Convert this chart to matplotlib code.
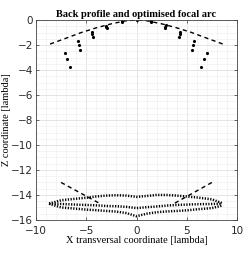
import numpy as np
import matplotlib
matplotlib.use("Agg")
import matplotlib.pyplot as plt
from matplotlib.ticker import MultipleLocator

# focal arc (dashed)
arc_x = [-8.6, -7.0, -5.5, -4.0, -2.5, -1.0, 0.0, 1.0, 2.5, 4.0, 5.5, 7.0, 8.6]
arc_z = [-1.92, -1.45, -1.0, -0.62, -0.3, -0.05, 0.0, -0.05, -0.3, -0.62, -1.0, -1.45, -1.92]

# back profile points near the top
top_x = [-7.11, -6.88, -6.58, -5.85, -5.75, -5.6, -4.46, -4.43, -4.36, -3.03, -3.0, -2.97,
         -1.47, -1.42, 0.0, 1.41, 1.45, 2.9, 2.88, 2.86, 4.33, 4.3, 4.23, 5.72, 5.62, 5.49,
         6.98, 6.75, 6.45]
top_z = [-2.67, -3.12, -3.76, -1.68, -2.0, -2.37, -0.93, -1.1, -1.39, -0.45, -0.55, -0.65,
         -0.1, -0.18, 0.0, -0.08, -0.15, -0.4, -0.52, -0.64, -0.99, -1.15, -1.39, -1.68, -2.0, -2.37,
         -2.67, -3.12, -3.76]

# bottom dashed segments
dl_x = [-7.5, -3.5]
dl_z = [-13.0, -14.75]
dr_x = [7.5, 3.6]
dr_z = [-13.0, -14.75]

# bottom profile curves
bx = [-8.7, -7.5, -6, -5, -4, -3, -2, -1, 0, 1, 2, 3, 4, 5, 6, 7.5, 8.5]
upper_z = [-14.7, -14.42, -14.3, -14.22, -14.12, -14.05, -14.02, -14.05, -14.15, -14.08, -14.0,
           -14.0, -14.05, -14.12, -14.2, -14.35, -14.65]
middle_z = [-14.7, -14.72, -14.77, -14.8, -14.83, -14.88, -14.9, -14.95, -15.05, -14.98, -14.92,
            -14.85, -14.8, -14.77, -14.74, -14.72, -14.7]
lower_z = [-14.7, -15.0, -15.1, -15.17, -15.22, -15.28, -15.33, -15.45, -15.7, -15.5, -15.38,
           -15.32, -15.28, -15.23, -15.15, -15.05, -14.85]

fig = plt.figure(figsize=(2.5, 2.54), dpi=100)
ax = fig.add_axes([0.144, 0.134, 0.804, 0.787])

dash = (0, (3, 2.5))
ax.plot(arc_x, arc_z, color="k", lw=1.0, linestyle=dash)
ax.plot(top_x, top_z, "k.", ms=2.5)
ax.plot(dl_x, dl_z, color="k", lw=1.0, linestyle=dash)
ax.plot(dr_x, dr_z, color="k", lw=1.0, linestyle=dash)
for zz in (upper_z, middle_z, lower_z):
    ax.plot(bx, zz, color="k", lw=1.8, linestyle=(0, (0.5, 0.6)))

ax.set_xlim(-10, 10)
ax.set_ylim(-16, 0)
ax.xaxis.set_major_locator(MultipleLocator(5))
ax.xaxis.set_minor_locator(MultipleLocator(1))
ax.yaxis.set_major_locator(MultipleLocator(2))
ax.yaxis.set_minor_locator(MultipleLocator(0.5))
ax.grid(which="major", color="#e0e0e0", lw=0.6)
ax.grid(which="minor", color="#f0f0f0", lw=0.5)
ax.set_axisbelow(True)
ax.tick_params(which="both", direction="in", top=True, right=True, labelsize=7.5,
               length=2.5, width=0.5, color="#333333", labelcolor="#262626")
ax.tick_params(axis="x", pad=4)
ax.tick_params(axis="y", pad=2)
ax.tick_params(which="minor", length=0)
for s in ax.spines.values():
    s.set_color("#444444")
    s.set_linewidth(0.6)

serif = ["Liberation Serif", "DejaVu Serif"]
ax.set_title("Back profile and optimised focal arc", family=serif, fontweight="bold",
             fontsize=7.5, pad=2)
ax.set_xlabel("X transversal coordinate [lambda]", family=serif, fontsize=7.5, labelpad=0)
ax.set_ylabel("Z coordinate [lambda]", family=serif, fontsize=7.5, labelpad=0)

fig.savefig("out.png", dpi=100)
